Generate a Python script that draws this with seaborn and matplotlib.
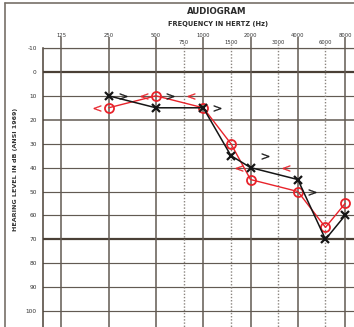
import matplotlib
matplotlib.use("Agg")
import matplotlib.pyplot as plt
import seaborn as sns
from matplotlib.transforms import ScaledTranslation
from matplotlib.lines import Line2D

# ---- data ----
freqs_ac = [250, 500, 1000, 1500, 2000, 4000, 6000, 8000]
right_ac = [15, 10, 15, 30, 45, 50, 65, 55]     # red O
left_ac = [10, 15, 15, 35, 40, 45, 70, 60]      # black X
bone_freqs = [250, 500, 1000, 2000, 4000]
right_bc = [15, 10, 10, 40, 40]                  # red <
left_bc = [10, 10, 15, 35, 50]                   # black >
octave_ticks = [125, 250, 500, 1000, 2000, 4000, 8000]
octave_labels = ["125", "250", "500", "1000", "2000", "4000", "8000"]
mid_ticks = [750, 1500, 3000, 6000]
mid_labels = ["750", "1500", "3000", "6000"]
db_ticks = [-10, 0, 10, 20, 30, 40, 50, 60, 70, 80, 90, 100]
db_labels = ["-10", "0", "10", "20", "30", "40", "50", "60", "70", "80", "90", "100"]

sns.set_style("white")
plt.rcParams["font.family"] = ["DejaVu Sans"]

RED = "#e8232b"
BLK = "#151515"
GRID = "#625a52"

W, H = 354, 327
fig = plt.figure(figsize=(W / 100, H / 100), dpi=100)
fig.patch.set_facecolor("white")
ax = fig.add_axes([43 / W, (H - 335) / H, (373 - 43) / W, (335 - 48) / H])
ax.set_facecolor("white")
ax.set_xscale("log", base=2)
ax.set_xlim(95.5, 12040)
ax.set_ylim(110, -10)

# grid
for v in db_ticks:
    lw = 1.6 if v in (0, 70) else (1.1 if v == 20 else 0.85)
    col = "#4a4036" if v in (0, 70) else GRID
    ax.axhline(v, color=col, lw=lw, zorder=1)
ax.vlines(octave_ticks, -14.6, 110, colors=GRID, lw=1.1, clip_on=False, zorder=1)
ax.vlines(mid_ticks, -11.5, 110, colors="#8a847e", lw=1.0,
          linestyles=(0, (1.0, 1.3)), clip_on=False, zorder=1)

# ticks
ax.set_xticks(octave_ticks, octave_labels)
ax.set_xticks(mid_ticks, mid_labels, minor=True)
ax.xaxis.tick_top()
ax.tick_params(axis="x", which="major", length=0, pad=7.0, labelsize=3.8, colors="#333333")
ax.tick_params(axis="x", which="minor", length=0, pad=1.8, labelsize=3.8, colors="#333333")
ax.set_yticks(db_ticks, db_labels)
ax.tick_params(axis="y", length=0, pad=4.5, labelsize=4.2, colors="#333333")

for s in ["right", "bottom"]:
    ax.spines[s].set_visible(False)
ax.spines["left"].set_color("#4a4036")
ax.spines["left"].set_linewidth(1.1)
ax.spines["top"].set_color(GRID)
ax.spines["top"].set_linewidth(0.85)

ax.set_ylabel("HEARING LEVEL IN dB (ANSI 1969)", fontsize=4.6, fontweight="bold", color="#333333")
ax.yaxis.set_label_coords((18 - 43) / 330, (335 - 169) / 287)
ax.set_xlabel("")

# data
sns.lineplot(x=freqs_ac, y=right_ac, ax=ax, color=RED, lw=1.0, sort=False,
             marker="o", ms=6.5, mfc="none", mec=RED, mew=1.3, zorder=4)
sns.lineplot(x=freqs_ac, y=left_ac, ax=ax, color=BLK, lw=1.1, sort=False,
             marker="x", ms=6, mec=BLK, mew=1.6, zorder=5)

sns.scatterplot(x=bone_freqs, y=right_bc, ax=ax, marker="$<$", s=28,
                color=RED, edgecolor=RED, linewidth=0.2, zorder=6)
ax.collections[-1].set_offset_transform(
    ax.transData + ScaledTranslation(-0.12, 0, fig.dpi_scale_trans))
sns.scatterplot(x=bone_freqs, y=left_bc, ax=ax, marker="$>$", s=28,
                color=BLK, edgecolor=BLK, linewidth=0.2, zorder=6)
ax.collections[-1].set_offset_transform(
    ax.transData + ScaledTranslation(0.14, 0, fig.dpi_scale_trans))

# titles
fig.text(217 / W, 1 - 12 / H, "AUDIOGRAM", ha="center", va="center",
         fontsize=6.2, fontweight="bold", color="#2a2a2a")
fig.text(218 / W, 1 - 24 / H, "FREQUENCY IN HERTZ (Hz)", ha="center", va="center",
         fontsize=4.8, fontweight="bold", color="#2a2a2a")

# outer form border
fig.add_artist(Line2D([5 / W, 5 / W], [0, 1 - 3 / H], transform=fig.transFigure,
                      color="#777068", lw=1.2))
fig.add_artist(Line2D([5 / W, 1], [1 - 3 / H, 1 - 3 / H], transform=fig.transFigure,
                      color="#777068", lw=1.2))

fig.savefig("out.png", dpi=100)
